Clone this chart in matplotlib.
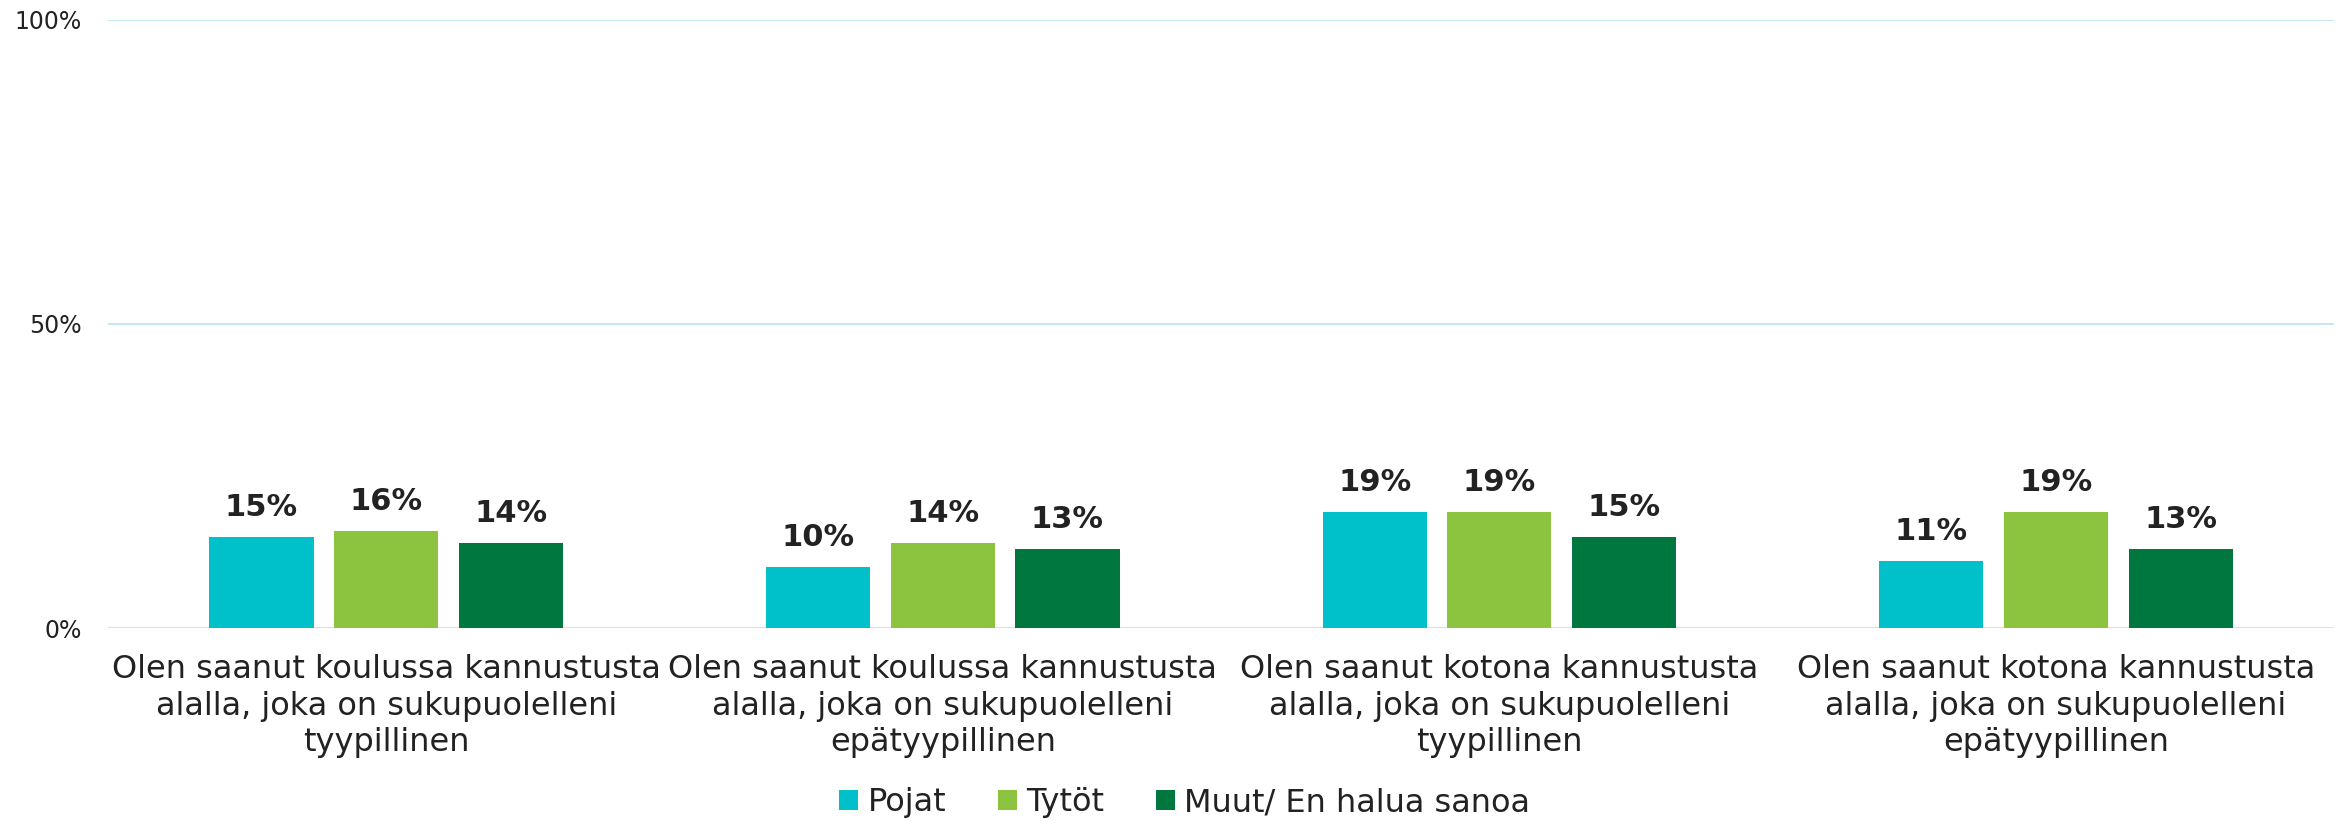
import matplotlib.pyplot as plt
import numpy as np
from matplotlib.patches import Patch

categories = [
    "Olen saanut koulussa kannustusta\nalalla, joka on sukupuolelleni\ntyypillinen",
    "Olen saanut koulussa kannustusta\nalalla, joka on sukupuolelleni\nepätyypillinen",
    "Olen saanut kotona kannustusta\nalalla, joka on sukupuolelleni\ntyypillinen",
    "Olen saanut kotona kannustusta\nalalla, joka on sukupuolelleni\nepätyypillinen",
]
series_names = ["Pojat", "Tytöt", "Muut/ En halua sanoa"]
pojat = [15, 10, 19, 11]
tytot = [16, 14, 19, 19]
muut = [14, 13, 15, 13]
colors = ["#00C1C9", "#8DC43F", "#00773E"]

plt.rcParams['font.family'] = ['DejaVu Sans']
text_color = "#222222"

fig = plt.figure(figsize=(23.46, 8.21), dpi=100)
ax = fig.add_axes([0.046, 0.235, 0.949, 0.741])

x = np.arange(len(categories))
w = 0.187
step = 0.224
for i, (vals, c) in enumerate(zip([pojat, tytot, muut], colors)):
    pos = x + (i - 1) * step
    ax.bar(pos, vals, width=w, color=c, zorder=3)
    for px, v in zip(pos, vals):
        ax.text(px, v + 2.5, f"{v}%", ha='center', va='bottom',
                fontsize=22, fontweight='bold', color=text_color)

ax.set_xlim(-0.5, 3.5)
ax.set_ylim(0, 100)
ax.set_yticks([0, 50, 100])
ax.set_yticklabels(["0%", "50%", "100%"], fontsize=17, color=text_color)
ax.set_xticks(x)
ax.set_xticklabels(categories, fontsize=23, color=text_color, linespacing=1.22)
ax.tick_params(axis='x', length=0, pad=19)
ax.tick_params(axis='y', length=0, pad=19)
ax.yaxis.grid(True, color="#C5E9EE", linewidth=1.5, zorder=0)
for s in ax.spines.values():
    s.set_visible(False)

handles = [Patch(facecolor=c, label=n) for c, n in zip(colors, series_names)]
fig.legend(handles=handles, loc='center', bbox_to_anchor=(0.505, 0.022), ncol=3,
           frameon=False, fontsize=23, handlelength=0.6, handleheight=0.6,
           handletextpad=0.3, columnspacing=1.6, labelcolor=text_color)

fig.savefig("out.png", dpi=100)
